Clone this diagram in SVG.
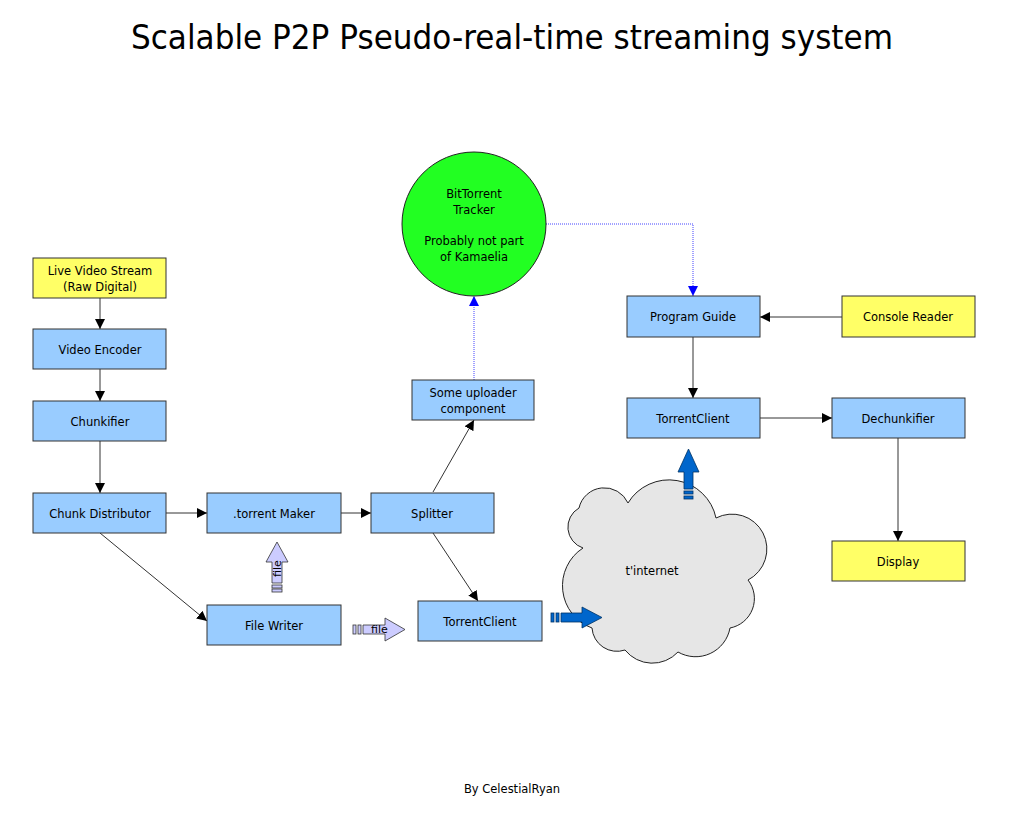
<svg xmlns="http://www.w3.org/2000/svg" width="1024" height="816" viewBox="0 0 1024 816">
<defs>
<marker id="ah" viewBox="0 0 10 10" refX="10" refY="5" markerWidth="10" markerHeight="10" markerUnits="userSpaceOnUse" orient="auto">
<path d="M0,0 L10,5 L0,10 Z" fill="#000"/>
</marker>
<marker id="ahb" viewBox="0 0 10 10" refX="10" refY="5" markerWidth="10" markerHeight="10" markerUnits="userSpaceOnUse" orient="auto">
<path d="M0,0 L10,5 L0,10 Z" fill="#0000ff"/>
</marker>
<path id="fat" d="M0,-4 L22,-4 L22,-10 L42,0 L22,10 L22,4 L0,4 Z"/>
</defs>
<style>
.box{fill:#99ccff;stroke:#333;stroke-width:1}
.ybox{fill:#ffff66;stroke:#333;stroke-width:1}
.t{font-family:"DejaVu Sans","Liberation Sans",sans-serif;font-size:11.5px;fill:#000;text-anchor:middle}
.c{fill:none;stroke:#333;stroke-width:1;marker-end:url(#ah)}
.d{fill:none;stroke:#4444ff;stroke-width:1;stroke-dasharray:1,1;marker-end:url(#ahb)}
.lav{fill:#ccccff;stroke:#333;stroke-width:0.8}
.blu{fill:#0066cc;stroke:#003366;stroke-width:0.8}
</style>
<rect width="1024" height="816" fill="#fff"/>
<text x="512" y="49" font-family="DejaVu Sans,Liberation Sans,sans-serif" font-size="33" text-anchor="middle" textLength="762" lengthAdjust="spacingAndGlyphs">Scalable P2P Pseudo-real-time streaming system</text>

<g id="cloud">
<path d="M583,548 A22,22 0 0 1 579,508 A26,26 0 0 1 628,503 A48,48 0 0 1 716,518 A34,34 0 0 1 748,580 A30,30 0 0 1 730,628 A35,35 0 0 1 678,652 A35,35 0 0 1 625,650 A25,25 0 0 1 592,628 A45,45 0 0 1 583,548 Z" fill="#e6e6e6" stroke="#222" stroke-width="1"/>
<text class="t" x="652" y="575">t'internet</text>
</g>

<g id="connectors">
<line class="c" x1="100" y1="298" x2="100" y2="329"/>
<line class="c" x1="100" y1="369" x2="100" y2="401"/>
<line class="c" x1="100" y1="441" x2="100" y2="493"/>
<line class="c" x1="166" y1="513" x2="207" y2="513"/>
<line class="c" x1="341" y1="513" x2="371" y2="513"/>
<line class="c" x1="100" y1="533" x2="207" y2="621"/>
<line class="c" x1="433" y1="492" x2="474" y2="420"/>
<line class="c" x1="433" y1="533" x2="478" y2="601"/>
<line class="c" x1="842" y1="317" x2="760" y2="317"/>
<line class="c" x1="693" y1="337" x2="693" y2="398"/>
<line class="c" x1="760" y1="418" x2="832" y2="418"/>
<line class="c" x1="898" y1="438" x2="898" y2="541"/>
<line class="d" x1="474" y1="380" x2="474" y2="296"/>
<polyline class="d" points="546,224 693,224 693,296"/>
</g>

<g id="fat-arrows">
<g id="arrow-up-file">
<rect class="lav" x="272" y="589" width="10" height="3"/>
<rect class="lav" x="272" y="585" width="10" height="3"/>
<path class="lav" d="M272,583 L272,562 L266,562 L277,542 L288,562 L282,562 L282,583 Z"/>
<text x="0" y="0" transform="translate(281,577) rotate(-90)" font-family="DejaVu Sans,Liberation Sans,sans-serif" font-size="11" fill="#000">file</text>
</g>
<g id="arrow-right-file">
<rect class="lav" x="353" y="625" width="3" height="9"/>
<rect class="lav" x="358" y="625" width="3" height="9"/>
<path class="lav" d="M363,625 L385,625 L385,618 L405,629.5 L385,641 L385,634 L363,634 Z"/>
<text x="371" y="633" font-family="DejaVu Sans,Liberation Sans,sans-serif" font-size="11" fill="#000">file</text>
</g>
<g id="arrow-right-net">
<rect class="blu" x="551" y="613" width="3" height="9"/>
<rect class="blu" x="556" y="613" width="3" height="9"/>
<path class="blu" d="M561,613 L582,613 L582,607 L602,617.5 L582,628 L582,622 L561,622 Z"/>
</g>
<g id="arrow-up-net">
<rect class="blu" x="684" y="496" width="9" height="3"/>
<rect class="blu" x="684" y="491" width="9" height="3"/>
<path class="blu" d="M684,489 L684,472 L678,472 L688.5,449 L699,472 L693,472 L693,489 Z"/>
</g>
</g>

<g id="tracker">
<circle cx="474" cy="224" r="72" fill="#22ff22" stroke="#222" stroke-width="1"/>
<text class="t" x="474" y="198">BitTorrent</text>
<text class="t" x="474" y="214">Tracker</text>
<text class="t" x="474" y="245">Probably not part</text>
<text class="t" x="474" y="261">of Kamaelia</text>
</g>
<g id="live"><rect class="ybox" x="33" y="258" width="133" height="40"/><text class="t" x="100" y="275">Live Video Stream</text><text class="t" x="100" y="291">(Raw Digital)</text></g>
<g id="encoder"><rect class="box" x="33" y="329" width="133" height="40"/><text class="t" x="100" y="354">Video Encoder</text></g>
<g id="chunkifier"><rect class="box" x="33" y="401" width="133" height="40"/><text class="t" x="100" y="426">Chunkifier</text></g>
<g id="distributor"><rect class="box" x="33" y="493" width="133" height="40"/><text class="t" x="100" y="518">Chunk Distributor</text></g>
<g id="torrentmaker"><rect class="box" x="207" y="493" width="134" height="40"/><text class="t" x="274" y="518">.torrent Maker</text></g>
<g id="splitter"><rect class="box" x="371" y="493" width="123" height="40"/><text class="t" x="432" y="518">Splitter</text></g>
<g id="uploader"><rect class="box" x="412" y="380" width="122" height="40"/><text class="t" x="473" y="397">Some uploader</text><text class="t" x="473" y="413">component</text></g>
<g id="filewriter"><rect class="box" x="207" y="605" width="134" height="40"/><text class="t" x="274" y="630">File Writer</text></g>
<g id="torrentclient1"><rect class="box" x="418" y="601" width="124" height="40"/><text class="t" x="480" y="626">TorrentClient</text></g>
<g id="programguide"><rect class="box" x="627" y="296" width="133" height="41"/><text class="t" x="693" y="321">Program Guide</text></g>
<g id="consolereader"><rect class="ybox" x="842" y="296" width="133" height="41"/><text class="t" x="908" y="321">Console Reader</text></g>
<g id="torrentclient2"><rect class="box" x="627" y="398" width="133" height="40"/><text class="t" x="693" y="423">TorrentClient</text></g>
<g id="dechunkifier"><rect class="box" x="832" y="398" width="133" height="40"/><text class="t" x="898" y="423">Dechunkifier</text></g>
<g id="display"><rect class="ybox" x="832" y="541" width="133" height="40"/><text class="t" x="898" y="566">Display</text></g>

<text class="t" x="512" y="793">By CelestialRyan</text>
</svg>
